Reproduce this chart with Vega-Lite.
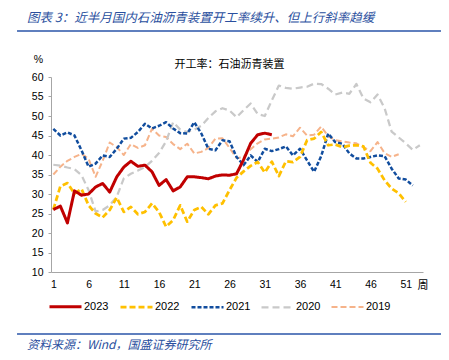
{
  "$schema": "https://vega.github.io/schema/vega-lite/v6.json",
  "width": 372,
  "height": 195,
  "autosize": {"type": "none"},
  "padding": {"left": 51, "top": 77, "right": 26, "bottom": 88},
  "background": "white",
  "title": {
    "text": "图表 3：近半月国内石油沥青装置开工率续升、但上行斜率趋缓",
    "anchor": "start",
    "frame": "group",
    "dx": -24,
    "offset": 6,
    "font": "Noto Sans CJK SC",
    "fontSize": 12.5,
    "fontStyle": "italic",
    "fontWeight": "normal",
    "color": "#2A4F9E"
  },
  "config": {
    "view": {"stroke": null},
    "axis": {"grid": false, "labelOverlap": false, "domainColor": "#A6A6A6", "domainWidth": 1, "labelFont": "Liberation Sans", "labelFontSize": 10.5, "labelColor": "#000000", "titleColor": "#000000", "titleFontWeight": "normal"}
  },
  "layer": [
    {
      "data": {"values": [
        {"week":1,"year":"2019","rate":35.0},{"week":2,"year":"2019","rate":37.0},{"week":3,"year":"2019","rate":38.5},{"week":4,"year":"2019","rate":39.5},{"week":5,"year":"2019","rate":40.3},{"week":6,"year":"2019","rate":39.0},{"week":7,"year":"2019","rate":34.4},{"week":8,"year":"2019","rate":38.5},{"week":9,"year":"2019","rate":43.2},{"week":10,"year":"2019","rate":42.0},{"week":11,"year":"2019","rate":40.0},{"week":12,"year":"2019","rate":42.8},{"week":13,"year":"2019","rate":41.8},{"week":14,"year":"2019","rate":42.5},{"week":15,"year":"2019","rate":46.7},{"week":16,"year":"2019","rate":45.0},{"week":17,"year":"2019","rate":44.6},{"week":18,"year":"2019","rate":42.8},{"week":19,"year":"2019","rate":41.5},{"week":20,"year":"2019","rate":42.9},{"week":21,"year":"2019","rate":40.4},{"week":22,"year":"2019","rate":40.8},{"week":23,"year":"2019","rate":41.8},{"week":24,"year":"2019","rate":44.2},{"week":25,"year":"2019","rate":44.3},{"week":26,"year":"2019","rate":41.8},{"week":27,"year":"2019","rate":39.2},{"week":28,"year":"2019","rate":39.5},{"week":29,"year":"2019","rate":41.5},{"week":30,"year":"2019","rate":43.0},{"week":31,"year":"2019","rate":44.0},{"week":32,"year":"2019","rate":44.2},{"week":33,"year":"2019","rate":44.5},{"week":34,"year":"2019","rate":45.3},{"week":35,"year":"2019","rate":44.8},{"week":36,"year":"2019","rate":47.0},{"week":37,"year":"2019","rate":45.0},{"week":38,"year":"2019","rate":45.2},{"week":39,"year":"2019","rate":47.3},{"week":40,"year":"2019","rate":44.8},{"week":41,"year":"2019","rate":43.8},{"week":42,"year":"2019","rate":43.5},{"week":43,"year":"2019","rate":43.2},{"week":44,"year":"2019","rate":43.0},{"week":45,"year":"2019","rate":42.0},{"week":46,"year":"2019","rate":41.0},{"week":47,"year":"2019","rate":43.3},{"week":48,"year":"2019","rate":40.5},{"week":49,"year":"2019","rate":39.5},{"week":50,"year":"2019","rate":40.2},
        {"week":1,"year":"2020","rate":37.5},{"week":2,"year":"2020","rate":37.3},{"week":3,"year":"2020","rate":36.8},{"week":4,"year":"2020","rate":36.4},{"week":5,"year":"2020","rate":34.8},{"week":6,"year":"2020","rate":31.0},{"week":7,"year":"2020","rate":25.5},{"week":8,"year":"2020","rate":25.9},{"week":9,"year":"2020","rate":27.1},{"week":10,"year":"2020","rate":29.3},{"week":11,"year":"2020","rate":34.0},{"week":12,"year":"2020","rate":35.2},{"week":13,"year":"2020","rate":36.0},{"week":14,"year":"2020","rate":36.9},{"week":15,"year":"2020","rate":38.5},{"week":16,"year":"2020","rate":40.5},{"week":17,"year":"2020","rate":43.5},{"week":18,"year":"2020","rate":48.4},{"week":19,"year":"2020","rate":46.5},{"week":20,"year":"2020","rate":45.9},{"week":21,"year":"2020","rate":46.5},{"week":22,"year":"2020","rate":47.5},{"week":23,"year":"2020","rate":49.5},{"week":24,"year":"2020","rate":51.2},{"week":25,"year":"2020","rate":52.0},{"week":26,"year":"2020","rate":51.4},{"week":27,"year":"2020","rate":49.7},{"week":28,"year":"2020","rate":51.5},{"week":29,"year":"2020","rate":53.2},{"week":30,"year":"2020","rate":50.5},{"week":31,"year":"2020","rate":50.0},{"week":32,"year":"2020","rate":54.0},{"week":33,"year":"2020","rate":57.8},{"week":34,"year":"2020","rate":57.2},{"week":35,"year":"2020","rate":57.0},{"week":36,"year":"2020","rate":57.3},{"week":37,"year":"2020","rate":57.5},{"week":38,"year":"2020","rate":58.3},{"week":39,"year":"2020","rate":58.2},{"week":40,"year":"2020","rate":57.0},{"week":41,"year":"2020","rate":55.5},{"week":42,"year":"2020","rate":56.0},{"week":43,"year":"2020","rate":55.7},{"week":44,"year":"2020","rate":58.2},{"week":45,"year":"2020","rate":54.5},{"week":46,"year":"2020","rate":53.5},{"week":47,"year":"2020","rate":55.5},{"week":48,"year":"2020","rate":52.0},{"week":49,"year":"2020","rate":46.0},{"week":50,"year":"2020","rate":44.5},{"week":51,"year":"2020","rate":43.0},{"week":52,"year":"2020","rate":41.3},{"week":53,"year":"2020","rate":42.5},
        {"week":1,"year":"2021","rate":46.7},{"week":2,"year":"2021","rate":45.0},{"week":3,"year":"2021","rate":45.8},{"week":4,"year":"2021","rate":45.0},{"week":5,"year":"2021","rate":41.2},{"week":6,"year":"2021","rate":37.0},{"week":7,"year":"2021","rate":37.8},{"week":8,"year":"2021","rate":39.9},{"week":9,"year":"2021","rate":39.5},{"week":10,"year":"2021","rate":41.6},{"week":11,"year":"2021","rate":44.2},{"week":12,"year":"2021","rate":44.4},{"week":13,"year":"2021","rate":45.9},{"week":14,"year":"2021","rate":48.0},{"week":15,"year":"2021","rate":46.8},{"week":16,"year":"2021","rate":47.5},{"week":17,"year":"2021","rate":48.4},{"week":18,"year":"2021","rate":46.8},{"week":19,"year":"2021","rate":45.6},{"week":20,"year":"2021","rate":45.5},{"week":21,"year":"2021","rate":48.4},{"week":22,"year":"2021","rate":45.5},{"week":23,"year":"2021","rate":41.6},{"week":24,"year":"2021","rate":41.2},{"week":25,"year":"2021","rate":43.8},{"week":26,"year":"2021","rate":43.5},{"week":27,"year":"2021","rate":39.5},{"week":28,"year":"2021","rate":37.4},{"week":29,"year":"2021","rate":39.9},{"week":30,"year":"2021","rate":38.2},{"week":31,"year":"2021","rate":41.6},{"week":32,"year":"2021","rate":41.0},{"week":33,"year":"2021","rate":41.5},{"week":34,"year":"2021","rate":42.2},{"week":35,"year":"2021","rate":39.9},{"week":36,"year":"2021","rate":41.6},{"week":37,"year":"2021","rate":38.6},{"week":38,"year":"2021","rate":35.7},{"week":39,"year":"2021","rate":39.7},{"week":40,"year":"2021","rate":45.5},{"week":41,"year":"2021","rate":43.3},{"week":42,"year":"2021","rate":42.9},{"week":43,"year":"2021","rate":40.4},{"week":44,"year":"2021","rate":39.1},{"week":45,"year":"2021","rate":39.1},{"week":46,"year":"2021","rate":39.5},{"week":47,"year":"2021","rate":39.9},{"week":48,"year":"2021","rate":39.7},{"week":49,"year":"2021","rate":36.5},{"week":50,"year":"2021","rate":34.0},{"week":51,"year":"2021","rate":33.7},{"week":52,"year":"2021","rate":32.2},
        {"week":1,"year":"2022","rate":26.0},{"week":2,"year":"2022","rate":32.0},{"week":3,"year":"2022","rate":32.8},{"week":4,"year":"2022","rate":30.1},{"week":5,"year":"2022","rate":31.3},{"week":6,"year":"2022","rate":27.1},{"week":7,"year":"2022","rate":25.0},{"week":8,"year":"2022","rate":24.0},{"week":9,"year":"2022","rate":25.9},{"week":10,"year":"2022","rate":29.1},{"week":11,"year":"2022","rate":25.4},{"week":12,"year":"2022","rate":26.7},{"week":13,"year":"2022","rate":24.8},{"week":14,"year":"2022","rate":25.4},{"week":15,"year":"2022","rate":27.6},{"week":16,"year":"2022","rate":25.4},{"week":17,"year":"2022","rate":21.6},{"week":18,"year":"2022","rate":23.3},{"week":19,"year":"2022","rate":27.1},{"week":20,"year":"2022","rate":22.9},{"week":21,"year":"2022","rate":25.9},{"week":22,"year":"2022","rate":26.7},{"week":23,"year":"2022","rate":24.8},{"week":24,"year":"2022","rate":27.1},{"week":25,"year":"2022","rate":27.6},{"week":26,"year":"2022","rate":31.0},{"week":27,"year":"2022","rate":34.2},{"week":28,"year":"2022","rate":35.8},{"week":29,"year":"2022","rate":37.2},{"week":30,"year":"2022","rate":38.2},{"week":31,"year":"2022","rate":35.5},{"week":32,"year":"2022","rate":38.3},{"week":33,"year":"2022","rate":34.6},{"week":34,"year":"2022","rate":38.4},{"week":35,"year":"2022","rate":38.2},{"week":36,"year":"2022","rate":39.5},{"week":37,"year":"2022","rate":43.8},{"week":38,"year":"2022","rate":44.2},{"week":39,"year":"2022","rate":45.9},{"week":40,"year":"2022","rate":42.5},{"week":41,"year":"2022","rate":42.7},{"week":42,"year":"2022","rate":42.0},{"week":43,"year":"2022","rate":42.4},{"week":44,"year":"2022","rate":42.5},{"week":45,"year":"2022","rate":42.2},{"week":46,"year":"2022","rate":38.0},{"week":47,"year":"2022","rate":36.5},{"week":48,"year":"2022","rate":33.5},{"week":49,"year":"2022","rate":31.4},{"week":50,"year":"2022","rate":30.2},{"week":51,"year":"2022","rate":28.0},
        {"week":1,"year":"2023","rate":26.0},{"week":2,"year":"2023","rate":26.9},{"week":3,"year":"2023","rate":22.6},{"week":4,"year":"2023","rate":30.8},{"week":5,"year":"2023","rate":29.7},{"week":6,"year":"2023","rate":30.0},{"week":7,"year":"2023","rate":31.8},{"week":8,"year":"2023","rate":32.7},{"week":9,"year":"2023","rate":30.5},{"week":10,"year":"2023","rate":34.4},{"week":11,"year":"2023","rate":36.9},{"week":12,"year":"2023","rate":38.4},{"week":13,"year":"2023","rate":37.1},{"week":14,"year":"2023","rate":37.4},{"week":15,"year":"2023","rate":35.7},{"week":16,"year":"2023","rate":32.2},{"week":17,"year":"2023","rate":33.7},{"week":18,"year":"2023","rate":30.8},{"week":19,"year":"2023","rate":31.8},{"week":20,"year":"2023","rate":34.4},{"week":21,"year":"2023","rate":34.4},{"week":22,"year":"2023","rate":34.2},{"week":23,"year":"2023","rate":33.9},{"week":24,"year":"2023","rate":34.6},{"week":25,"year":"2023","rate":34.9},{"week":26,"year":"2023","rate":34.8},{"week":27,"year":"2023","rate":35.2},{"week":28,"year":"2023","rate":38.8},{"week":29,"year":"2023","rate":43.0},{"week":30,"year":"2023","rate":45.2},{"week":31,"year":"2023","rate":45.6},{"week":32,"year":"2023","rate":45.2}
      ]},
      "mark": {"type": "line", "strokeCap": "butt", "strokeJoin": "round"},
      "encoding": {
        "x": {"field": "week", "type": "quantitative",
              "scale": {"domain": [0.67, 53.45], "nice": false, "zero": false},
              "axis": {"values": [1,6,11,16,21,26,31,36,41,46,51], "tickCount": 30, "labelOverlap": false, "ticks": false, "labelPadding": 7,
                       "title": "周", "titleFont": "Noto Sans CJK SC", "titleFontSize": 11,
                       "titleX": 371.5, "titleY": 13, "titleAlign": "center", "titleBaseline": "middle"}},
        "y": {"field": "rate", "type": "quantitative",
              "scale": {"domain": [10, 60], "nice": false, "zero": false},
              "axis": {"values": [10,15,20,25,30,35,40,45,50,55,60], "tickCount": 30, "labelOverlap": false, "tickSize": 3, "tickColor": "#A6A6A6", "labelPadding": 5,
                       "title": "%", "titleAngle": 0, "titleFont": "Liberation Sans", "titleFontSize": 10.5,
                       "titleX": -13, "titleY": -18, "titleAlign": "center", "titleBaseline": "middle"}},
        "color": {"field": "year", "type": "nominal",
                  "scale": {"domain": ["2023","2022","2021","2020","2019"], "range": ["#C00000","#FFC000","#114D9E","#C9C9C9","#F6B38A"]},
                  "legend": {"title": null, "orient": "none", "direction": "horizontal", "columns": 5,
                             "legendX": -3, "legendY": 212, "symbolType": "stroke", "symbolSize": 1024,
                             "labelFont": "Liberation Sans", "labelFontSize": 11, "labelColor": "#000000",
                             "labelOffset": 1, "columnPadding": 6}},
        "strokeDash": {"field": "year", "type": "nominal",
                       "scale": {"domain": ["2023","2022","2021","2020","2019"], "range": [[1,0],[6,3],[4,2],[7,4],[6,3]]},
                       "legend": {"title": null}},
        "strokeWidth": {"field": "year", "type": "nominal",
                        "scale": {"domain": ["2023","2022","2021","2020","2019"], "range": [3,2,2,2,2]},
                        "legend": {"title": null}},
        "order": {"field": "week", "type": "quantitative"}
      }
    },
    {
      "data": {"values": [{}]},
      "mark": {"type": "text", "font": "Noto Sans CJK SC", "fontSize": 11, "color": "#000000", "align": "center", "baseline": "middle", "text": "开工率：石油沥青装置"},
      "encoding": {"x": {"datum": 26.0, "type": "quantitative"}, "y": {"datum": 63.08, "type": "quantitative"}}
    },
    {
      "data": {"values": [{}]},
      "mark": {"type": "rule", "color": "#2A55A8", "strokeWidth": 1.5},
      "encoding": {"x": {"datum": -4.15, "type": "quantitative"}, "x2": {"datum": 56.0}, "y": {"datum": 71.79, "type": "quantitative"}}
    },
    {
      "data": {"values": [{}]},
      "mark": {"type": "rule", "color": "#2A55A8", "strokeWidth": 1.5},
      "encoding": {"x": {"datum": -4.15, "type": "quantitative"}, "x2": {"datum": 56.0}, "y": {"datum": -5.9, "type": "quantitative"}}
    },
    {
      "data": {"values": [{}]},
      "mark": {"type": "text", "font": "Noto Sans CJK SC", "fontSize": 12, "fontStyle": "italic", "color": "#2A4F9E", "align": "left", "baseline": "middle", "text": "资料来源：Wind，国盛证券研究所"},
      "encoding": {"x": {"datum": -2.74, "type": "quantitative"}, "y": {"datum": -8.72, "type": "quantitative"}}
    }
  ]
}
